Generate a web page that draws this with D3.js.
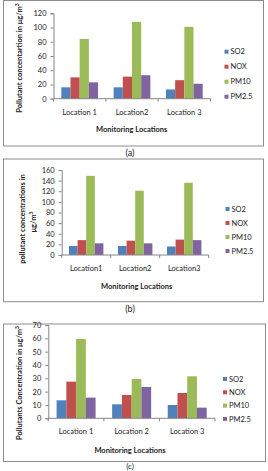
<!DOCTYPE html>
<html lang="en">
<head>
<meta charset="UTF-8">
<title>Pollutant concentrations</title>
<style>
  * { margin: 0; padding: 0; }
  body { background: #fff; }
  text { font-family: Lato, "Open Sans", sans-serif; fill: #222; }
</style>
</head>
<body>
<div id="container"></div>
<script src="https://cdn.jsdelivr.net/npm/d3@7/dist/d3.min.js"></script>
<script>
var seriesNames = ['SO2', 'NOX', 'PM10', 'PM2.5'],
    seriesColors = ['#4F81BD', '#C0504D', '#9BBB59', '#8064A2']

// panel (a)
var catsA = ['Location 1', 'Location2', 'Location 3'],
    so2A = [16, 16, 13],
    noxA = [30, 31, 26],
    pm10A = [84, 108, 101],
    pm25A = [23, 33, 21],
    ticksA = [0, 20, 40, 60, 80, 100, 120]

// panel (b)
var catsB = ['Location1', 'Location2', 'Location3'],
    so2B = [17, 17, 16],
    noxB = [28, 27, 29],
    pm10B = [149, 121, 136],
    pm25B = [22, 22, 28],
    ticksB = [0, 20, 40, 60, 80, 100, 120, 140, 160]

// panel (c)
var catsC = ['Location 1', 'Location 2', 'Location 3'],
    so2C = [13.5, 10.5, 10],
    noxC = [27.5, 17.5, 19],
    pm10C = [59.5, 29.5, 31.5],
    pm25C = [15.5, 23.5, 8],
    ticksC = [0, 10, 20, 30, 40, 50, 60, 70]

var width = 268, height = 471
var svg = d3.select('#container').append('svg')
    .attr('width', width).attr('height', height)

function drawPanel(p) {
    var g = svg.append('g')
    // chart border
    g.append('rect')
        .attr('x', p.box[0]).attr('y', p.box[1])
        .attr('width', p.box[2] - p.box[0]).attr('height', p.box[3] - p.box[1])
        .attr('fill', 'none').attr('stroke', '#8c8c8c').attr('stroke-width', 1)

    var x = d3.scaleBand().domain(p.cats).range([p.x0, p.x1]).padding(0)
    var xs = d3.scaleBand().domain(seriesNames).range([0, x.bandwidth()])
        .paddingInner(0).paddingOuter(0.85)
    var y = d3.scaleLinear().domain([0, d3.max(p.ticks)]).range([p.yb, p.yt])

    var rows = p.cats.map(function (c, i) {
        return seriesNames.map(function (s, j) {
            return { cat: c, key: s, value: p.values[j][i], color: seriesColors[j] }
        })
    })

    g.selectAll('g.grp')
        .data(rows)
        .enter().append('g')
        .attr('transform', function (d, i) { return 'translate(' + x(p.cats[i]) + ',0)' })
        .selectAll('rect')
        .data(function (d) { return d })
        .enter().append('rect')
        .attr('x', function (d) { return xs(d.key) })
        .attr('y', function (d) { return y(d.value) })
        .attr('width', xs.bandwidth())
        .attr('height', function (d) { return p.yb - y(d.value) })
        .attr('fill', function (d) { return d.color })

    // y axis
    var ya = g.append('g').attr('transform', 'translate(' + p.x0 + ',0)')
        .call(d3.axisLeft(y).tickValues(p.ticks).tickSize(3).tickPadding(4))
    ya.select('.domain').attr('stroke', '#868686')
    ya.selectAll('line').attr('stroke', '#868686')
    ya.selectAll('text').attr('font-size', 7.5).attr('fill', '#222')
        .attr('font-family', 'Lato, "Open Sans", sans-serif')

    // x axis
    var xa = g.append('g').attr('transform', 'translate(0,' + p.yb + ')')
    xa.append('line').attr('x1', p.x0).attr('x2', p.x1)
        .attr('stroke', '#868686')
    xa.selectAll('line.tk')
        .data(d3.range(p.cats.length + 1))
        .enter().append('line')
        .attr('class', 'tk')
        .attr('x1', function (i) { return p.x0 + i * x.step() })
        .attr('x2', function (i) { return p.x0 + i * x.step() })
        .attr('y1', 0).attr('y2', 3)
        .attr('stroke', '#868686')
    g.selectAll('text.cat')
        .data(p.cats)
        .enter().append('text')
        .attr('class', 'cat')
        .attr('x', function (d) { return x(d) + x.bandwidth() / 2 })
        .attr('y', p.catY)
        .attr('dy', '0.35em')
        .attr('text-anchor', 'middle')
        .attr('font-size', 7.5)
        .text(function (d) { return d })

    // axis titles
    g.append('text')
        .attr('x', p.xTitle[0]).attr('y', p.xTitle[1])
        .attr('dy', '0.35em')
        .attr('text-anchor', 'middle')
        .attr('font-size', 7.5).attr('font-weight', 'bold')
        .text('Monitoring Locations')

    p.yTitle.forEach(function (t) {
        var yt = g.append('text')
            .attr('transform', 'translate(' + t.x + ',' + t.y + ') rotate(-90)')
            .attr('dy', '0.35em')
            .attr('text-anchor', 'middle')
            .attr('font-size', 7.5).attr('font-weight', 'bold')
        yt.append('tspan').text(t.text)
        if (t.sup) {
            yt.append('tspan').attr('font-size', 5).attr('dy', '-0.6em').text(t.sup)
        }
    })

    // legend
    var lg = g.selectAll('g.leg')
        .data(seriesNames)
        .enter().append('g')
        .attr('transform', function (d, i) {
            return 'translate(' + p.legX + ',' + (p.legY + i * p.legStep) + ')'
        })
    lg.append('rect')
        .attr('x', 0).attr('y', -2).attr('width', 4).attr('height', 4)
        .attr('fill', function (d, i) { return seriesColors[i] })
    lg.append('text')
        .attr('x', 6).attr('dy', '0.35em')
        .attr('font-size', 7.5)
        .text(function (d) { return d })

    // caption
    svg.append('text')
        .attr('x', p.caption[0]).attr('y', p.caption[1])
        .attr('dy', '0.35em')
        .attr('text-anchor', 'middle')
        .attr('font-size', p.caption[3] || 9)
        .attr('font-family', '"Liberation Serif", serif')
        .text(p.caption[2])
}

drawPanel({
    box: [3.5, 0.5, 263.5, 146], cats: catsA, values: [so2A, noxA, pm10A, pm25A], ticks: ticksA,
    x0: 53.5, x1: 210.5, yt: 13.3, yb: 98.7, catY: 112.7, xTitle: [131.7, 129],
    yTitle: [{ x: 19, y: 58, text: 'Pollutant concentartion in \u03bcg/m', sup: '3' }],
    legX: 224.5, legY: 51.7, legStep: 15, caption: [130, 152.7, '(a)']
})

drawPanel({
    box: [3.5, 159, 263.5, 301.7], cats: catsB, values: [so2B, noxB, pm10B, pm25B], ticks: ticksB,
    x0: 61.7, x1: 208.7, yt: 170, yb: 255, catY: 268.3, xTitle: [136.7, 286],
    yTitle: [{ x: 22.7, y: 219, text: 'pollutant concentrations in' },
             { x: 33.3, y: 222, text: '\u03bcg/m', sup: '3' }],
    legX: 225.5, legY: 209, legStep: 14, caption: [130, 309, '(b)']
})

drawPanel({
    box: [3.5, 324, 265.5, 461.5], cats: catsC, values: [so2C, noxC, pm10C, pm25C], ticks: ticksC,
    x0: 48.3, x1: 215, yt: 325, yb: 418.3, catY: 431.7, xTitle: [130, 450],
    yTitle: [{ x: 19, y: 383, text: 'Pollutants Concentration in \u03bcg/m', sup: '3' }],
    legX: 223, legY: 379, legStep: 13.3, caption: [130, 466.5, '(c)', 8]
})
</script>
</body>
</html>
